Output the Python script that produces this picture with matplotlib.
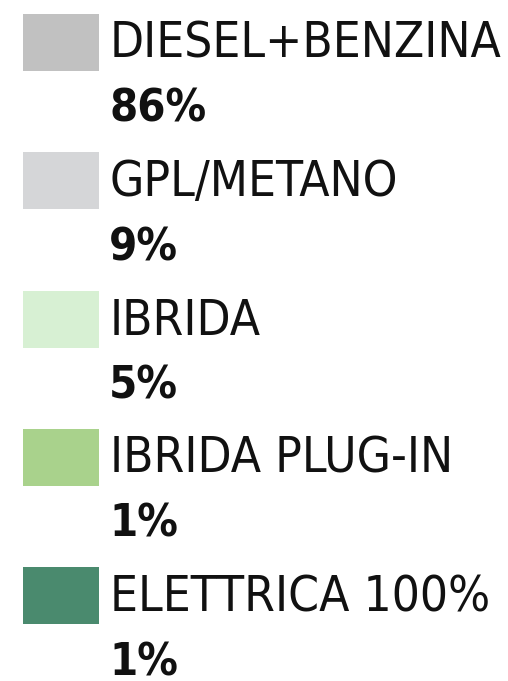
import matplotlib.pyplot as plt
from matplotlib.patches import Rectangle

# legend entries
labels = ['DIESEL+BENZINA', 'GPL/METANO', 'IBRIDA', 'IBRIDA PLUG-IN', 'ELETTRICA 100%']
shares = [86, 9, 5, 1, 1]
colors = ['#c1c1c1', '#d5d6d8', '#d7f0d3', '#a9d28c', '#4a8a6e']

W, H = 508, 681
fig = plt.figure(figsize=(W / 100, H / 100), dpi=100)
ax = fig.add_axes([0, 0, 1, 1])
ax.set_xlim(0, W)
ax.set_ylim(H, 0)
ax.axis('off')

step = 138.3
for i, (lab, val, col) in enumerate(zip(labels, shares, colors)):
    top = 14 + i * step
    ax.add_patch(Rectangle((23, top), 76, 57, color=col, lw=0))
    ax.text(110, top + 44, lab, fontsize=35.5, family='DejaVu Sans',
            fontstretch='condensed', va='baseline', ha='left', color='#111111')
    ax.text(109, top + 108, f'{val}%', fontsize=32.5, family='DejaVu Sans',
            fontstretch='condensed', fontweight='bold', va='baseline',
            ha='left', color='#111111')

fig.savefig('out.png', dpi=100)
